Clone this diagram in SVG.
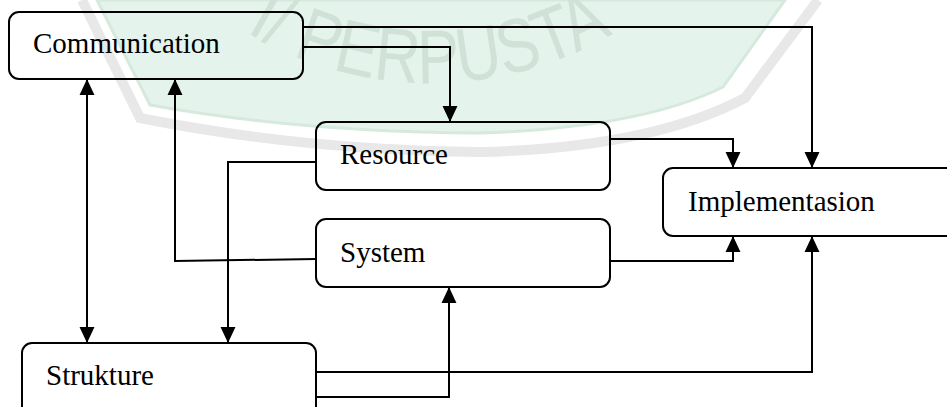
<svg xmlns="http://www.w3.org/2000/svg" width="947" height="407" viewBox="0 0 947 407">
  <style>
    .box { fill: none; stroke: #000; stroke-width: 2; }
    .lbl { font-family: "Liberation Serif", "Times New Roman", serif; font-size: 29px; fill: #000; }
    .wire { fill: none; stroke: #000; stroke-width: 2; }
    .arr { marker-end: url(#ah); }
  </style>
  <defs>
    <marker id="ah" markerUnits="userSpaceOnUse" markerWidth="16" markerHeight="16" viewBox="0 0 15 14" refX="15" refY="7" orient="auto-start-reverse">
      <path d="M0,0 L15,7 L0,14 Z" fill="#000"/>
    </marker>
    <path id="wmArc" d="M 246,32 A 360 360 0 0 0 622,28"/>
  </defs>
  <rect width="947" height="407" fill="#ffffff"/>

  <g id="watermark">
    <path d="M82,0 L140,118 Q300,150 480,152 Q650,148 745,98 L818,0" fill="none" stroke="#e8e8e8" stroke-width="10"/>
    <path d="M97,0 L150,105 Q300,132 480,133 Q640,128 723,87 L785,0 Z" fill="#e4f3eb" stroke="#d6e9dd" stroke-width="3"/>
    <text font-family="Liberation Sans, Arial, sans-serif" font-size="76" fill="#d0e2d7">
      <textPath href="#wmArc" textLength="385" lengthAdjust="spacingAndGlyphs">I/ PERPUSTA</textPath>
    </text>
  </g>

  <g id="connectors">
    <path class="wire arr" d="M303,27 H812 V168"/>
    <path class="wire arr" d="M303,47 H450 V122"/>
    <path class="wire arr" d="M610,139 H733 V168"/>
    <path class="wire arr" d="M316,162 H228 V343"/>
    <path class="wire arr" d="M316,259 L175,261 V79"/>
    <path class="wire arr" d="M610,261 H733 V236"/>
    <path class="wire arr" d="M87,79 V343" marker-start="url(#ah)"/>
    <path class="wire arr" d="M316,397 H449 V287"/>
    <path class="wire arr" d="M316,372 H812 V236"/>
  </g>

  <g id="communication">
    <rect class="box" x="9" y="12" width="294" height="67" rx="10"/>
    <text class="lbl" x="33" y="52.5">Communication</text>
  </g>
  <g id="resource">
    <rect class="box" x="316" y="122" width="294" height="68" rx="10"/>
    <text class="lbl" x="340" y="164">Resource</text>
  </g>
  <g id="system">
    <rect class="box" x="316" y="219" width="294" height="68" rx="10"/>
    <text class="lbl" x="340" y="261.5">System</text>
  </g>
  <g id="implementasion">
    <rect class="box" x="663" y="168" width="300" height="68" rx="10"/>
    <text class="lbl" x="688" y="211">Implementasion</text>
  </g>
  <g id="strukture">
    <rect class="box" x="22" y="343" width="294" height="80" rx="10"/>
    <text class="lbl" x="46" y="385">Strukture</text>
  </g>
</svg>
